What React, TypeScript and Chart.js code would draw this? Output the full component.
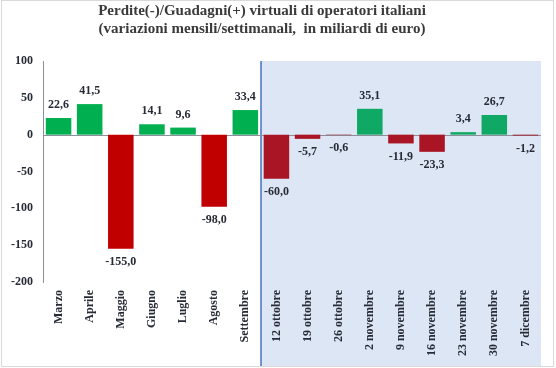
import React, { useEffect, useRef } from "react";
import { Chart, registerables } from "chart.js";

Chart.register(...registerables);

const categories = [
  "Marzo", "Aprile", "Maggio", "Giugno", "Luglio", "Agosto", "Settembre",
  "12 ottobre", "19 ottobre", "26 ottobre", "2 novembre", "9 novembre",
  "16 novembre", "23 novembre", "30 novembre", "7 dicembre",
];
const values = [22.6, 41.5, -155.0, 14.1, 9.6, -98.0, 33.4, -60.0, -5.7, -0.6, 35.1, -11.9, -23.3, 3.4, 26.7, -1.2];
const monthlyCount = 7;
const titleLines = [
  "Perdite(-)/Guadagni(+) virtuali di operatori italiani",
  "(variazioni mensili/settimanali,  in miliardi di euro)",
];
const yTicks = [100, 50, 0, -50, -100, -150, -200];

const FONT = "'Liberation Serif', 'DejaVu Serif', serif";
const TEXT = "#262b36";

const colors = values.map((v, i) => {
  const weekly = i >= monthlyCount;
  if (v >= 0) return weekly ? "#0fa864" : "#00b050";
  return weekly ? "#a91524" : "#c00000";
});

function shadeLeft(chart: any) {
  const x = chart.scales.x;
  return Math.round((x.getPixelForValue(monthlyCount - 1) + x.getPixelForValue(monthlyCount)) / 2);
}

const decorPlugin = {
  id: "decor",
  beforeDraw(chart: any) {
    const { ctx, chartArea } = chart;
    const left = shadeLeft(chart);
    ctx.save();
    ctx.fillStyle = "#dce6f4";
    ctx.fillRect(left, chartArea.top, chartArea.right - left, 366 - chartArea.top);
    ctx.strokeStyle = "#4a72c0";
    ctx.lineWidth = 1.5;
    ctx.beginPath();
    ctx.moveTo(left, chartArea.top);
    ctx.lineTo(left, 366);
    ctx.stroke();
    ctx.restore();
  },
  beforeDatasetsDraw(chart: any) {
    const { ctx, chartArea, scales } = chart;
    const y0 = Math.round(scales.y.getPixelForValue(0)) + 0.5;
    ctx.save();
    ctx.strokeStyle = "#8a8f99";
    ctx.lineWidth = 1;
    ctx.beginPath();
    ctx.moveTo(chartArea.left, y0);
    ctx.lineTo(chartArea.right, y0);
    ctx.stroke();
    ctx.restore();
  },
  afterDraw(chart: any) {
    const { ctx } = chart;
    ctx.save();
    ctx.strokeStyle = "#d9d9d9";
    ctx.lineWidth = 1;
    ctx.strokeRect(1.5, 0.5, 552, 366);
    ctx.fillStyle = "#3a3a3a";
    ctx.textAlign = "center";
    ctx.textBaseline = "middle";
    ctx.font = `bold 15px ${FONT}`;
    ctx.fillText(titleLines[0], 262, 11);
    ctx.fillText(titleLines[1], 262, 29);
    const meta = chart.getDatasetMeta(0);
    ctx.font = `bold 12px ${FONT}`;
    ctx.fillStyle = TEXT;
    meta.data.forEach((bar: any, i: number) => {
      const v = values[i];
      const txt = v.toFixed(1).replace(".", ",");
      const y = v >= 0 ? bar.y - 13 : bar.y + 13;
      ctx.fillText(txt, bar.x, y);
    });
    ctx.restore();
  },
};

export default function App() {
  const ref = useRef<HTMLCanvasElement | null>(null);
  useEffect(() => {
    if (!ref.current) return;
    const chart = new Chart(ref.current, {
      type: "bar",
      data: {
        labels: categories,
        datasets: [
          {
            data: values,
            backgroundColor: colors,
            borderWidth: 0,
            barPercentage: 0.82,
            categoryPercentage: 1,
          },
        ],
      },
      options: {
        responsive: false,
        animation: false,
        layout: { padding: { top: 61, right: 15, left: 0, bottom: 0 } },
        plugins: { legend: { display: false }, title: { display: false }, tooltip: { enabled: false } },
        scales: {
          x: {
            grid: { display: false, drawTicks: false },
            border: { display: false },
            ticks: {
              minRotation: 90,
              maxRotation: 90,
              autoSkip: false,
              padding: 8,
              color: TEXT,
              font: { family: FONT, size: 12, weight: "bold" },
            },
            afterFit: (s: any) => { s.height = 86; },
          },
          y: {
            min: -200,
            max: 100,
            afterBuildTicks: (s: any) => { s.ticks = yTicks.map((v) => ({ value: v })); },
            grid: { display: false, drawTicks: false },
            border: { display: true, color: "#8a8f99", width: 1 },
            ticks: {
              padding: 10,
              color: TEXT,
              font: { family: FONT, size: 12, weight: "bold" },
              callback: (v: any) => String(v),
            },
            afterFit: (s: any) => { s.width = 43; },
          },
        },
      },
      plugins: [decorPlugin],
    });
    return () => chart.destroy();
  }, []);
  return (
    <div style={{ position: "fixed", left: 0, top: 0, width: 556, height: 368, background: "#fff" }}>
      <canvas ref={ref} width={556} height={368} style={{ width: 556, height: 368 }} />
    </div>
  );
}
